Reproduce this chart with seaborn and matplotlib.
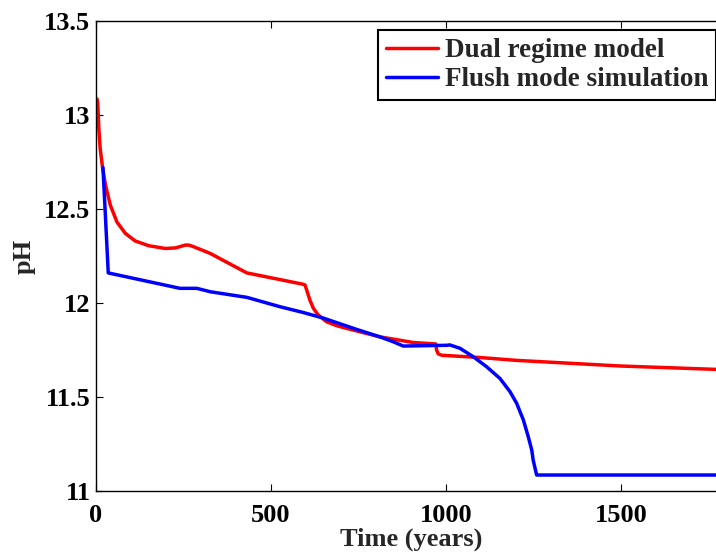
import numpy as np
import pandas as pd
import matplotlib
matplotlib.use("Agg")
import matplotlib.pyplot as plt
from matplotlib.lines import Line2D
import seaborn as sns

# Data
red_t = [3, 5, 8, 12, 19, 27, 41, 60, 84, 112, 150, 198, 227, 240, 255, 265, 278, 326,
         431, 591, 597, 602, 611, 621, 635, 659, 688, 716, 811, 906, 971, 973, 978, 988,
         1097, 1200, 1497, 1800]
red_ph = [13.085, 13.06, 12.93, 12.82, 12.716, 12.628, 12.52, 12.43, 12.37, 12.33, 12.305,
          12.29, 12.293, 12.30, 12.308, 12.308, 12.30, 12.264,
          12.16, 12.10, 12.096, 12.069, 12.016, 11.972, 11.936, 11.90, 11.879, 11.865,
          11.82, 11.79, 11.782, 11.75, 11.729, 11.722,
          11.71, 11.695, 11.665, 11.645]

blue_t = [20, 35, 240, 288, 326, 431, 526, 591, 649, 744, 811, 849, 878, 1002, 1011,
          1040, 1078, 1116, 1154, 1183, 1202, 1221, 1235, 1245, 1249, 1259, 1800]
blue_ph = [12.72, 12.16, 12.078, 12.078, 12.06, 12.03, 11.98, 11.95, 11.92, 11.86, 11.82,
           11.794, 11.771, 11.775, 11.777, 11.759, 11.714, 11.661, 11.599, 11.528, 11.466,
           11.378, 11.289, 11.218, 11.165, 11.085, 11.085]

series_names = ["Dual regime model", "Flush mode simulation"]
colors = ["#ff0000", "#0000ff"]

xticks = [0, 500, 1000, 1500]
yticks = [11, 11.5, 12, 12.5, 13, 13.5]
yticklabels = ["11", "11.5", "12", "12.5", "13", "13.5"]

df = pd.concat([
    pd.DataFrame({"Time": red_t, "pH": red_ph, "series": series_names[0]}),
    pd.DataFrame({"Time": blue_t, "pH": blue_ph, "series": series_names[1]}),
], ignore_index=True)

sns.set_style("ticks")
plt.rcParams["font.family"] = ["Liberation Serif", "DejaVu Serif"]
plt.rcParams["font.weight"] = "bold"

fig = plt.figure(figsize=(7.16, 5.52), dpi=100)
ax = fig.add_axes([96 / 716, 61 / 552, 630 / 716, 470 / 552])

sns.lineplot(data=df, x="Time", y="pH", hue="series", palette=colors,
             hue_order=series_names, sort=False, estimator=None,
             linewidth=2.5, ax=ax, legend=False)

ax.set_xlim(0, 1800)
ax.set_ylim(11, 13.5)
ax.set_xticks(xticks)
ax.set_xticklabels([str(v) for v in xticks])
ax.set_yticks(yticks)
ax.set_yticklabels(yticklabels)
ax.tick_params(direction="in", length=5, width=0.8, top=True, right=True,
               labelsize=19, colors="black")
ax.tick_params(axis="x", pad=9)
ax.tick_params(axis="y", pad=4)
for lab in ax.get_xticklabels() + ax.get_yticklabels():
    lab.set_fontweight("bold")
for s in ax.spines.values():
    s.set_visible(True)
    s.set_linewidth(1.0)
    s.set_color("black")

ax.set_xlabel("Time (years)", fontsize=19, fontweight="bold", labelpad=1)
ax.set_ylabel("pH", fontsize=19, fontweight="bold", labelpad=6)

handles = [Line2D([], [], color=c, linewidth=2.5) for c in colors]
leg = fig.legend(handles, series_names, loc="upper left",
                 bbox_to_anchor=(378 / 716, 1 - 30 / 552),
                 prop={"family": "Liberation Serif", "weight": "bold", "size": 19.5},
                 frameon=True, fancybox=False, shadow=False,
                 handlelength=1.9, handletextpad=0.26, borderpad=0.3,
                 labelspacing=0.15, borderaxespad=0)
leg.get_frame().set_edgecolor("black")
leg.get_frame().set_linewidth(1.5)
leg.get_frame().set_alpha(1)

fig.savefig("out.png", dpi=100)
